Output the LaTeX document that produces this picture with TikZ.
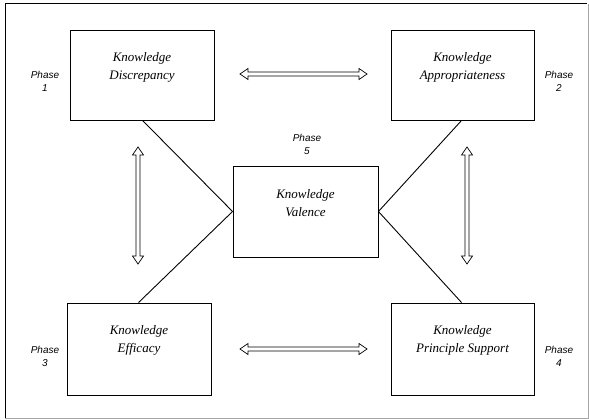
\documentclass[tikz,border=0pt]{standalone}
\usepackage{fontspec}
\setmainfont{Liberation Serif}
\setsansfont{Liberation Sans}
\usetikzlibrary{calc}
\begin{document}
\begin{tikzpicture}[x=1pt,y=-1pt,
  box/.style={draw,line width=0.9pt,inner sep=0pt},
  lbl/.style={font=\fontsize{13}{18}\selectfont\itshape,align=center,inner sep=0pt},
  phase/.style={font=\fontsize{10}{13}\selectfont\sffamily\itshape,align=center,inner sep=0pt},
  conn/.style={line width=0.9pt},
  dblarrow/.style={line width=0.7pt,line join=miter}]
\useasboundingbox (0,0) rectangle (589,420);
% frame
\draw[line width=1pt] (5,418) -- (5,4) -- (587,4);
\draw[black!35,line width=1pt] (5,418.5) -- (588.5,418.5) -- (588.5,4);
% boxes
\node[box,minimum width=144pt,minimum height=90pt] (d) at (142,75) {};
\node[box,minimum width=143pt,minimum height=90pt] (a) at (462.5,75) {};
\node[box,minimum width=145pt,minimum height=91pt] (v) at (305.5,211.5) {};
\node[box,minimum width=144pt,minimum height=92pt] (e) at (139,349) {};
\node[box,minimum width=143pt,minimum height=92pt] (p) at (462.5,349) {};
% box texts
\node[lbl] (td) at ($(d.north)+(0,38)$) {Knowledge\\Discrepancy};
\node[lbl] (ta) at ($(a.north)+(0,38)$) {Knowledge\\Appropriateness};
\node[lbl] (tv) at ($(v.north)+(0,38)$) {Knowledge\\Valence};
\node[lbl] (te) at ($(e.north)+(0,38)$) {Knowledge\\Efficacy};
\node[lbl] (tp) at ($(p.north)+(0,38)$) {Knowledge\\Principle Support};
% phase labels
\node[phase] (p1) at (45,81) {Phase\\1};
\node[phase] (p2) at (559,81) {Phase\\2};
\node[phase] (p3) at (45,356) {Phase\\3};
\node[phase] (p4) at (559,356) {Phase\\4};
\node[phase] (p5) at (307,144) {Phase\\5};
% connectors
\draw[conn] ($(d.south west)+(73,0)$) -- (v.west);
\draw[conn] ($(e.north west)+(72,0)$) -- (v.west);
\draw[conn] ($(a.south west)+(71,0)$) -- (v.east);
\draw[conn] ($(p.north west)+(71,0)$) -- (v.east);
% double arrows
\coordinate (h1a) at (240,74);
\coordinate (h1b) at (367,74);
\coordinate (h2a) at (240,349);
\coordinate (h2b) at (367,349);
\coordinate (v1a) at (138,147);
\coordinate (v1b) at (138,264);
\coordinate (v2a) at (467,147);
\coordinate (v2b) at (467,264);
\foreach \s/\t in {h1a/h1b,h2a/h2b}{
  \draw[dblarrow] (\s) -- ++(8,-5.5) -- ++(0,3.5) -- ($(\t)+(-8,-2)$) -- ++(0,-3.5) -- (\t)
    -- ++(-8,5.5) -- ++(0,-3.5) -- ($(\s)+(8,2)$) -- ++(0,3.5) -- cycle;
}
\foreach \s/\t in {v1a/v1b,v2a/v2b}{
  \draw[dblarrow] (\s) -- ++(5.5,8) -- ++(-3.5,0) -- ($(\t)+(2,-8)$) -- ++(3.5,0) -- (\t)
    -- ++(-5.5,-8) -- ++(3.5,0) -- ($(\s)+(-2,8)$) -- ++(-3.5,0) -- cycle;
}
\end{tikzpicture}
\end{document}
